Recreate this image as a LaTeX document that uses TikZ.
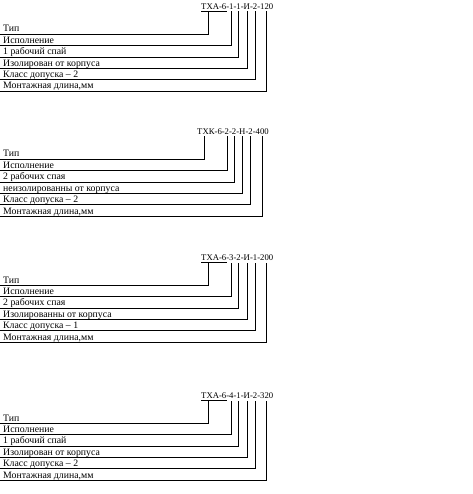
\documentclass[tikz,border=0pt]{standalone}
\usepackage{fontspec}
\setmainfont{Liberation Serif}
\usetikzlibrary{positioning}
\tikzset{
  codepart/.style={inner xsep=0pt,inner ysep=1.8pt,text height=6pt,text depth=0pt,
    font=\fontsize{8.7}{10}\selectfont},
  dashpart/.style={codepart,inner xsep=-0.4pt},
  linelbl/.style={anchor=base west,inner xsep=3pt,inner ysep=2pt,text height=7pt,
    text depth=0pt,font=\fontsize{9.8}{11}\selectfont},
  leader/.style={draw=black,line width=0.7pt},
  ul/.style={draw=black,line width=0.8pt},
  noul/.style={},
}
\begin{document}
\begin{tikzpicture}[x=1pt,y=-1pt,node distance=0pt]
  \useasboundingbox (0,0) rectangle (472,494);
  \foreach \blk/\L/\x/\tp/\ulst/\parts/\spai/\izol/\klass in {
      a/34/201/ТХА-6/ul/{1,1,И,2,120}/{1 рабочий спай}/{Изолирован от корпуса}/2,
      b/159/197/ТХК-6/noul/{2,2,Н,2,400}/{2 рабочих спая}/{неизолированны от корпуса}/2,
      c/285/201/ТХА-6/ul/{3,2,И,1,200}/{2 рабочих спая}/{Изолированны от корпуса}/1,
      d/423/201/ТХА-6/ul/{4,1,И,2,320}/{1 рабочий спай}/{Изолирован от корпуса}/2}{
    % обозначение
    \node[codepart,anchor=base west] (\blk0) at (\x,\L-24.5) {\tp};
    \path[\ulst] (\blk0.south west) -- (\blk0.south east);
    \foreach \val [count=\i] in \parts {
      \pgfmathtruncatemacro\prev{\i-1}
      \node[dashpart,base right=of \blk\prev] (\blk d\i) {-};
      \node[codepart,base right=of \blk d\i] (\blk\i) {\val};
    }
    % расшифровка
    \foreach \txt [count=\i from 0] in {Тип,Исполнение,\spai,\izol,Класс допуска – \klass,{Монтажная длина,мм}}
      \node[linelbl] (\blk p\i) at (0,\L+11.4*\i-2) {\txt};
    \draw[leader] (\blk p0.south west) -| ([xshift=-5pt]\blk0.south);
    \foreach \i in {1,...,5}
      \draw[leader] (\blk p\i.south west) -| (\blk\i.south);
  }
\end{tikzpicture}
\end{document}
